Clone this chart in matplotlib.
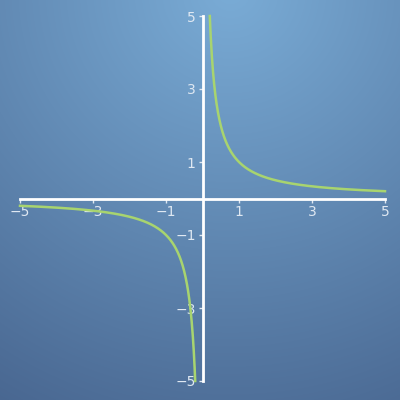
import numpy as np
import matplotlib
matplotlib.use("Agg")
import matplotlib.pyplot as plt

x_ticks = [-5, -3, -1, 1, 3, 5]
y_ticks = [-5, -3, -1, 1, 3, 5]
x_range = [-5, 5]
y_range = [-5, 5]

fig = plt.figure(figsize=(4, 4), dpi=100)

# background radial gradient
bg = fig.add_axes([0, 0, 1, 1])
H = W = 400
yy, xx = np.mgrid[0:H, 0:W]
cx, cy = 230, -10
r = np.sqrt((xx - cx) ** 2 + (yy - cy) ** 2) / 520.0
r = np.clip(r, 0, 1)
c0 = np.array([122, 172, 214]) / 255.0
c1 = np.array([68, 96, 138]) / 255.0
img = c0[None, None, :] * (1 - r[..., None]) + c1[None, None, :] * r[..., None]
bg.imshow(img, extent=[0, 1, 0, 1], aspect="auto", origin="upper")
bg.axis("off")

ax = fig.add_axes([0.05, 0.0475, 0.9125, 0.9125])
ax.patch.set_alpha(0)

xr = np.linspace(0.2, 5, 600)
xl = np.linspace(-5, -0.2, 600)
ax.plot(xr, 1 / xr, color="#a8d46f", lw=1.8, clip_on=False)
ax.plot(xl, 1 / xl, color="#a8d46f", lw=1.8, clip_on=False)

ax.set_xlim(*x_range)
ax.set_ylim(*y_range)
ax.spines["left"].set_position(("data", 0))
ax.spines["bottom"].set_position(("data", 0))
ax.spines["right"].set_visible(False)
ax.spines["top"].set_visible(False)
for s in ("left", "bottom"):
    ax.spines[s].set_color("white")
    ax.spines[s].set_linewidth(2)
ax.set_xticks(x_ticks)
ax.set_yticks(y_ticks)
ax.set_xticklabels([str(v).replace("-", "\u2212") for v in x_ticks])
ax.set_yticklabels([str(v).replace("-", "\u2212") for v in y_ticks])
ax.tick_params(axis="both", colors="#dfe8f2", labelsize=10, length=3, width=1)
ax.tick_params(axis="x", direction="out", pad=2)
ax.tick_params(axis="y", direction="out", pad=2)

fig.savefig("out.png", dpi=100)
